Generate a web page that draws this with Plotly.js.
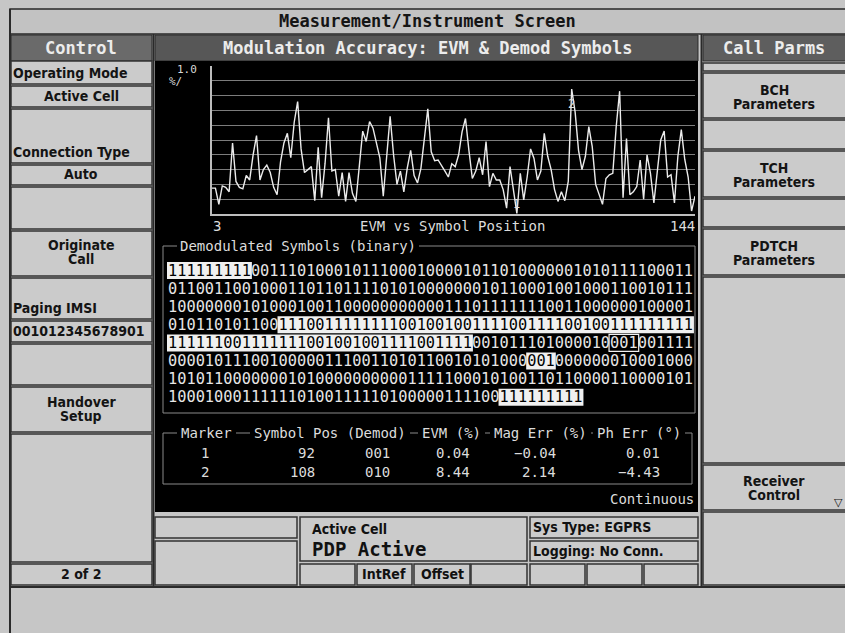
<!DOCTYPE html>
<html><head><meta charset="utf-8">
<script src="https://cdn.plot.ly/plotly-3.0.1.min.js"></script>
<style>html,body{margin:0;padding:0;background:#c6c6c6;overflow:hidden}#chart{width:845px;height:633px}</style>
</head><body><div id="chart"></div>
<script>
// ---------- DATA ----------
const symbolPos = [3,4,5,6,7,8,9,10,11,12,13,14,15,16,17,18,19,20,21,22,23,24,25,26,27,28,29,30,31,32,33,34,35,36,37,38,39,40,41,42,43,44,45,46,47,48,49,50,51,52,53,54,55,56,57,58,59,60,61,62,63,64,65,66,67,68,69,70,71,72,73,74,75,76,77,78,79,80,81,82,83,84,85,86,87,88,89,90,91,92,93,94,95,96,97,98,99,100,101,102,103,104,105,106,107,108,109,110,111,112,113,114,115,116,117,118,119,120,121,122,123,124,125,126,127,128,129,130,131,132,133,134,135,136,137,138,139,140,141,142,143,144];
const evmPct = [1.75,1.75,0.65,1.9,1.8,1.5,4.8,2.2,1.8,1.7,2.6,2.3,4.0,5.3,2.3,3.0,3.3,2.8,1.8,1.3,3.5,4.8,5.45,
  3.8,6.2,7.6,4.4,2.8,3.0,3.2,0.9,4.5,1.1,3.4,6.5,2.9,3.0,1.2,2.8,0.85,2.8,1.4,0.85,3.2,5.6,4.9,
  6.25,5.8,4.9,3.8,1.2,4.2,6.6,4.0,2.0,2.9,1.5,3.1,4.3,2.6,2.1,3.1,5.3,7.1,4.2,3.6,3.65,3.3,2.9,
  2.5,3.4,3.2,4.0,5.55,6.45,4.3,2.4,2.9,3.8,2.65,4.9,1.85,2.75,2.3,2.3,1.65,0.4,3.2,1.5,0.04,2.75,0.95,2.5,
  4.4,3.75,2.3,2.9,5.45,3.9,3.0,1.65,0.85,1.5,0.9,2.2,8.44,6.9,4.3,3.0,3.9,5.9,4.55,2.0,1.3,0.65,2.4,
  2.65,2.75,5.9,8.3,1.1,5.1,1.3,1.5,1.85,3.65,1.0,4.0,2.75,0.75,3.0,5.0,5.6,2.5,2.65,0.75,3.9,5.7,3.7,2.5,0.2,1.2];
const yRange = [0, 10];
const xRangeLabels = ['3', '144'];

const markerIds = ['1', '2'];
const markerSymbol = [92, 108];
const markerDemod = ['001', '010'];
const markerEvm = ['0.04', '8.44'];
const markerMagErr = ['\u22120.04', '2.14'];
const markerPhErr = ['0.01', '\u22124.43'];
const tableHeaders = ['Marker', 'Symbol Pos (Demod)', 'EVM (%)', 'Mag Err (%)', 'Ph Err (\u00b0)'];

const binaryRows = [
  [['111111111','h'],['001110100010111000100001011010000001010111100011','n']],
  [['011001100100011011011110101000000010110001001000110010111','n']],
  [['100000001010001001100000000000111011111110011000000100001','n']],
  [['010110101100','n'],['111001111111100100100111100111100100111111111','h']],
  [['111111001111111001001001111001111','h'],['001011101000010','n'],['001','o'],['001111','n']],
  [['000010111001000001110011010110010101000','n'],['001','h'],['000000010001000','n']],
  [['101011000000010100000000001111100010100110110000110000101','n']],
  [['100010001111110100111110100000111100','n'],['111111111','h']]
];

const leftKeys = [
  ['Operating Mode','left',73], ['Active Cell','center',96], ['Connection Type','left',152], ['Auto','center',174],
  ['Originate','center',245], ['Call','center',259], ['Paging IMSI','left',308], ['001012345678901','left',331],
  ['Handover','center',402], ['Setup','center',416], ['2 of 2','center',574]
];
const rightKeys = [
  ['BCH',90], ['Parameters',104], ['TCH',168], ['Parameters',182], ['PDTCH',246], ['Parameters',260],
  ['Receiver',481], ['Control',495]
];

// ---------- LAYOUT HELPERS ----------
const W = 845, H = 633;
const X = v => v / W;
const Y = v => 1 - v / H;
const shapes = [];
const annotations = [];
const MONO = '"DejaVu Sans Mono", "Liberation Mono", monospace';
const UI = '"DejaVu Sans Condensed", "Liberation Sans Narrow", "DejaVu Sans", sans-serif';

function box(x0, y0, x1, y1, fill, line, lw) {
  shapes.push({type:'rect', xref:'paper', yref:'paper', x0:X(x0), x1:X(x1), y0:Y(y1), y1:Y(y0),
    fillcolor: fill || 'rgba(0,0,0,0)', line:{color: line || 'rgba(0,0,0,0)', width: lw == null ? 1 : lw}, layer:'below'});
}
function seg(x0, y0, x1, y1, color, w) {
  shapes.push({type:'line', xref:'paper', yref:'paper', x0:X(x0), x1:X(x1), y0:Y(y0), y1:Y(y1),
    line:{color:color, width:w}, layer:'below'});
}
function label(x, y, t, o) {
  annotations.push({xref:'paper', yref:'paper', x:X(x), y:Y(y), text:t, showarrow:false,
    xanchor:o.anchor || 'center', yanchor:'middle', borderpad:o.pad || 0, borderwidth:0,
    bgcolor:o.bg || 'rgba(0,0,0,0)',
    font:{family:o.family || UI, size:o.size || 14, color:o.color || '#111', weight:o.weight || 'normal'}});
}

// ---------- FRAME ----------
box(10, 9, 846, 34, '#c2c2c2', '#2a2a2a', 1.5);
label(427, 21, 'Measurement/Instrument Screen', {family:MONO, size:17, color:'#151515', weight:'bold'});
seg(10, 9, 10, 633, '#2a2a2a', 2);
seg(10, 587, 845, 587, '#2a2a2a', 2);
// headers
box(11, 35, 152, 61, '#6a6a6a', '#2a2a2a', 1);
label(81, 48, 'Control', {family:MONO, size:17, color:'#ececec', weight:'bold'});
box(155, 35, 698, 61, '#575757', '#2a2a2a', 1);
label(427, 48, 'Modulation Accuracy: EVM &amp; Demod Symbols', {family:MONO, size:17, color:'#ececec', weight:'bold'});
box(703, 35, 846, 61, '#5e5e5e', '#2a2a2a', 1);
label(774, 48, 'Call Parms', {family:MONO, size:17, color:'#ececec', weight:'bold'});
seg(153.5, 34, 153.5, 587, '#2a2a2a', 2);
seg(701.5, 34, 701.5, 587, '#2a2a2a', 2);

// left softkeys
[[61,84],[86,107],[109,163],[165,185],[187,229],[231,276],[278,319],[321,342],[344,385],[387,432],[434,562],[564,585]]
  .forEach(r => box(11, r[0], 152, r[1], '#cbcbcb', '#333', 1.5));
leftKeys.forEach(k => label(k[1] === 'left' ? 13 : 81, k[2], k[0],
  {anchor:k[1] === 'left' ? 'left' : 'center', size:14, weight:'bold', color:'#141414'}));

// right softkeys
[[63,71],[73,118],[120,149],[151,197],[199,227],[229,275],[277,463],[465,510],[512,585]]
  .forEach(r => box(703, r[0], 846, r[1], '#cbcbcb', '#333', 1.5));
rightKeys.forEach(k => label(774, k[1], k[0], {size:14, weight:'bold', color:'#141414'}));
label(838, 502, '\u25BD', {family:'DejaVu Sans', size:11, color:'#111', weight:'bold'});

// bottom status boxes
box(155, 517, 297, 538, '#cbcbcb', '#333', 1.5);
box(155, 541, 297, 585, '#cbcbcb', '#333', 1.5);
box(300, 517, 527, 561, '#cbcbcb', '#333', 1.5);
[[300,355],[357,412],[414,470],[471,527],[530,585],[587,642],[644,698]].forEach(r => box(r[0], 564, r[1], 585, '#cbcbcb', '#333', 1.5));
box(530, 517, 698, 538, '#cbcbcb', '#333', 1.5);
box(530, 541, 698, 561, '#cbcbcb', '#333', 1.5);
label(312, 529, 'Active Cell', {anchor:'left', size:14, weight:'bold'});
label(312, 549, 'PDP Active', {anchor:'left', family:MONO, size:19, weight:'bold'});
label(384, 574, 'IntRef', {size:14, weight:'bold'});
label(442, 574, 'Offset', {size:14, weight:'bold'});
label(533, 527, 'Sys Type: EGPRS', {anchor:'left', size:14, weight:'bold'});
label(533, 551, 'Logging: No Conn.', {anchor:'left', size:14, weight:'bold'});

// ---------- BLACK DISPLAY ----------
box(155, 61, 698, 512, '#000', '#000', 0);
label(187, 70, '1.0', {family:MONO, size:11, color:'#d8d8d8'});
label(175, 82, '%/', {family:MONO, size:11, color:'#d8d8d8'});
label(213, 226, xRangeLabels[0], {anchor:'left', family:MONO, size:14, color:'#dcdcdc'});
label(452, 226, 'EVM vs Symbol Position', {family:MONO, size:14, color:'#dcdcdc'});
label(695, 226, xRangeLabels[1], {anchor:'right', family:MONO, size:14, color:'#dcdcdc'});

// demodulated symbols
box(163, 246, 695, 413, null, '#8a8a8a', 1);
label(177, 246, 'Demodulated Symbols (binary)', {anchor:'left', family:MONO, size:14, color:'#dcdcdc', bg:'#000', pad:3});
const binSize = 15.3;
const cv = document.createElement('canvas').getContext('2d');
cv.font = binSize + 'px "DejaVu Sans Mono"';
let cw = cv.measureText('0').width; if (!(cw > 5)) cw = binSize * 0.602;
const binLeft = 168;
binaryRows.forEach((row, i) => {
  const yc = 270.5 + i * 18.1;
  let pos = 0, html = '';
  row.forEach(s => {
    const x0 = binLeft + pos * cw, x1 = binLeft + (pos + s[0].length) * cw;
    if (s[1] === 'h') { box(x0 - 1, yc - 8.5, x1 + 1, yc + 8.5, '#f0f0f0', '#f0f0f0', 0); html += '<span style="color:#000">' + s[0] + '</span>'; }
    else if (s[1] === 'o') { box(x0 - 1, yc - 8.5, x1 + 1, yc + 8.5, null, '#f0f0f0', 1.2); html += s[0]; }
    else html += s[0];
    pos += s[0].length;
  });
  label(binLeft, yc, html, {anchor:'left', family:MONO, size:binSize, color:'#e6e6e6'});
});

// marker table
box(163, 433, 692, 484, null, '#8a8a8a', 1);
[206, 330, 451, 540, 639].forEach((cx, i) => label(cx, 433, tableHeaders[i], {family:MONO, size:14, color:'#dcdcdc', bg:'#000', pad:4}));
markerIds.forEach((m, i) => {
  const yc = 453 + i * 19;
  const o = {family:MONO, size:14, color:'#dcdcdc'};
  label(205, yc, m, o);
  label(315, yc, String(markerSymbol[i]), Object.assign({anchor:'right'}, o));
  label(377, yc, markerDemod[i], o);
  label(470, yc, markerEvm[i], Object.assign({anchor:'right'}, o));
  label(556, yc, markerMagErr[i], Object.assign({anchor:'right'}, o));
  label(660, yc, markerPhErr[i], Object.assign({anchor:'right'}, o));
});
label(694, 499, 'Continuous', {anchor:'right', family:MONO, size:14, color:'#dcdcdc'});

// markers on trace
markerIds.forEach((m, i) => {
  annotations.push({xref:'x', yref:'y', x:markerSymbol[i], y:parseFloat(markerEvm[i]), text:m, showarrow:false,
    yshift: i === 0 ? 9 : -15, font:{family:MONO, size:12, color:'#e0e0e0'}});
});

// ---------- PLOT ----------
const trace = {x:symbolPos, y:evmPct, type:'scatter', mode:'lines',
  line:{color:'#ececec', width:1.4}, hoverinfo:'skip'};

const layout = {
  width:W, height:H, margin:{l:0, r:0, t:0, b:0},
  paper_bgcolor:'#c6c6c6', plot_bgcolor:'#000', showlegend:false,
  xaxis:{domain:[X(212), X(695)], range:[symbolPos[0], symbolPos[symbolPos.length - 1]], showgrid:false, zeroline:false,
    showline:true, linecolor:'#bdbdbd', linewidth:2, showticklabels:false, ticks:'', fixedrange:true},
  yaxis:{domain:[Y(214), Y(66)], range:yRange, dtick:1, tick0:0, showgrid:true, gridcolor:'#7c7c7c', gridwidth:1,
    zeroline:false, showline:true, linecolor:'#bdbdbd', linewidth:2, showticklabels:false, ticks:'', fixedrange:true},
  shapes:shapes, annotations:annotations
};
Plotly.newPlot('chart', [trace], layout, {displayModeBar:false, staticPlot:true});
</script>
</body></html>
